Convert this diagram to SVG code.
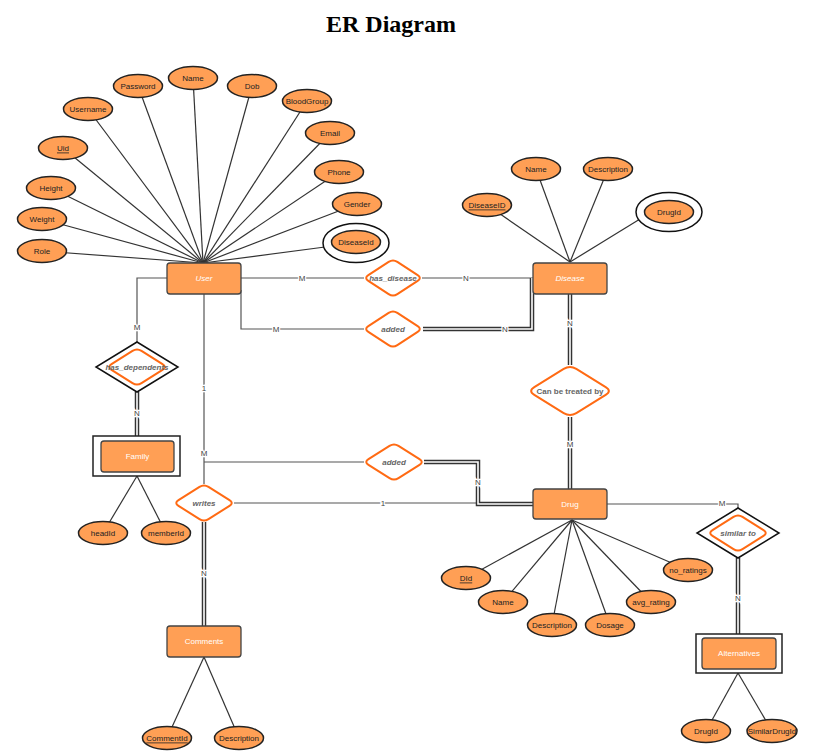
<svg xmlns="http://www.w3.org/2000/svg" width="817" height="755" viewBox="0 0 817 755">
<style>
text{font-family:"Liberation Sans",Arial,sans-serif;font-size:8px;text-anchor:middle;dominant-baseline:central}
.title{font-family:"Liberation Serif","Times New Roman",serif;font-size:24px;font-weight:bold;fill:#000;dominant-baseline:auto}
.attr ellipse{fill:#FF9F55;stroke:#222;stroke-width:1.5}
.attr text{fill:#222}
.attr line{stroke:#333;stroke-width:1.2}
.attr ellipse.ring{fill:#fff;stroke:#111;stroke-width:1.5}
.ent{fill:#FF9F55;stroke:#444;stroke-width:1.3}
.entout{fill:#fff;stroke:#222;stroke-width:1.5}
.etxt{fill:#fff}
.it{font-style:italic}
.rel{fill:#fff;stroke:#FF6A13;stroke-width:2;stroke-linejoin:round}
.relout{fill:#fff;stroke:#111;stroke-width:1.5}
.rtxt{fill:#666;font-style:italic;font-weight:bold}
.rtxt.norm{font-style:normal}
.c{fill:none;stroke:#555;stroke-width:1.2}
.d1{fill:none;stroke:#333;stroke-width:4.5}
.d2{fill:none;stroke:#fff;stroke-width:1.6}
.lbl{fill:#444;stroke:#fff;stroke-width:2.5;paint-order:stroke}
.u{text-decoration:underline}
</style>
<rect width="817" height="755" fill="#fff"/>
<text class="title" x="391" y="32">ER Diagram</text>

<g id="connectors">
<path class="c" d="M167,278 H137 V342"/>
<path class="d1" d="M137,392 V436"/><path class="d2" d="M137,392 V436"/>
<path class="c" d="M241,278 H364"/>
<path class="c" d="M422,278 H533"/>
<path class="c" d="M241,290 V329 H364"/>
<path class="d1" d="M423,329 H532 V278"/><path class="d2" d="M423,329 H532 V278"/>
<path class="c" d="M204,294 V484"/>
<path class="c" d="M204,462 H364"/>
<path class="c" d="M234,503 H533"/>
<path class="d1" d="M424,462 H478 V504 H533"/><path class="d2" d="M424,462 H478 V504 H533"/>
<path class="d1" d="M204,522 V626"/><path class="d2" d="M204,522 V626"/>
<path class="d1" d="M570,294 V365"/><path class="d2" d="M570,294 V365"/>
<path class="d1" d="M570,417 V489"/><path class="d2" d="M570,417 V489"/>
<path class="c" d="M607,504 H738 V508"/>
<path class="d1" d="M738,558 V634"/><path class="d2" d="M738,558 V634"/>
<text class="lbl" x="137" y="327">M</text>
<text class="lbl" x="137" y="413">N</text>
<text class="lbl" x="302" y="278">M</text>
<text class="lbl" x="466" y="278">N</text>
<text class="lbl" x="276" y="329">M</text>
<text class="lbl" x="505" y="329">N</text>
<text class="lbl" x="204" y="388">1</text>
<text class="lbl" x="204" y="453">M</text>
<text class="lbl" x="478" y="482">N</text>
<text class="lbl" x="383" y="503">1</text>
<text class="lbl" x="204" y="573">N</text>
<text class="lbl" x="570" y="323">N</text>
<text class="lbl" x="570" y="444">M</text>
<text class="lbl" x="722" y="503">M</text>
<text class="lbl" x="738" y="598">N</text>
</g>

<g id="user-attributes" class="attr">
<line x1="138" y1="86" x2="203" y2="263"/>
<line x1="193" y1="78" x2="203" y2="263"/>
<line x1="252" y1="86" x2="203" y2="263"/>
<line x1="307" y1="101" x2="203" y2="263"/>
<line x1="330" y1="133" x2="203" y2="263"/>
<line x1="339" y1="172" x2="203" y2="263"/>
<line x1="357" y1="204" x2="203" y2="263"/>
<line x1="325" y1="247" x2="203" y2="263"/>
<line x1="88" y1="109" x2="203" y2="263"/>
<line x1="63" y1="148" x2="203" y2="263"/>
<line x1="51" y1="188" x2="203" y2="263"/>
<line x1="42" y1="219" x2="203" y2="263"/>
<line x1="42" y1="251" x2="203" y2="263"/>
<g id="attr-password"><ellipse cx="138" cy="86" rx="24.5" ry="11.5"/><text x="138" y="86">Password</text></g>
<g id="attr-name"><ellipse cx="193" cy="78" rx="24.5" ry="11.5"/><text x="193" y="78">Name</text></g>
<g id="attr-dob"><ellipse cx="252" cy="86" rx="24.5" ry="11.5"/><text x="252" y="86">Dob</text></g>
<g id="attr-bloodgroup"><ellipse cx="307" cy="101" rx="24.5" ry="11.5"/><text x="307" y="101">BloodGroup</text></g>
<g id="attr-email"><ellipse cx="330" cy="133" rx="24.5" ry="11.5"/><text x="330" y="133">Email</text></g>
<g id="attr-phone"><ellipse cx="339" cy="172" rx="24.5" ry="11.5"/><text x="339" y="172">Phone</text></g>
<g id="attr-gender"><ellipse cx="357" cy="204" rx="24.5" ry="11.5"/><text x="357" y="204">Gender</text></g>
<g id="attr-diseaseid"><ellipse class="ring" cx="356" cy="243" rx="33" ry="19.5"/><ellipse cx="356" cy="242" rx="24.5" ry="11.5"/><text x="356" y="242">DiseaseId</text></g>
<g id="attr-username"><ellipse cx="88" cy="109" rx="24.5" ry="11.5"/><text x="88" y="109">Username</text></g>
<g id="attr-uid"><ellipse cx="63" cy="148" rx="24.5" ry="11.5"/><text class="u" x="63" y="148">Uid</text></g>
<g id="attr-height"><ellipse cx="51" cy="188" rx="24.5" ry="11.5"/><text x="51" y="188">Height</text></g>
<g id="attr-weight"><ellipse cx="42" cy="219" rx="24.5" ry="11.5"/><text x="42" y="219">Weight</text></g>
<g id="attr-role"><ellipse cx="42" cy="251" rx="24.5" ry="11.5"/><text x="42" y="251">Role</text></g>
</g>

<g id="disease-attributes" class="attr">
<line x1="536" y1="169" x2="570" y2="262"/>
<line x1="608" y1="169" x2="570" y2="262"/>
<line x1="487" y1="205" x2="570" y2="262"/>
<line x1="640" y1="219" x2="570" y2="262"/>
<g id="attr-d-name"><ellipse cx="536" cy="169" rx="24.5" ry="11.5"/><text x="536" y="169">Name</text></g>
<g id="attr-d-description"><ellipse cx="608" cy="169" rx="24.5" ry="11.5"/><text x="608" y="169">Description</text></g>
<g id="attr-d-diseaseid"><ellipse cx="487" cy="205" rx="24.5" ry="11.5"/><text class="u" x="487" y="205">DiseaseID</text></g>
<g id="attr-d-drugid"><ellipse class="ring" cx="669" cy="212" rx="33" ry="19.5"/><ellipse cx="669" cy="212" rx="24.5" ry="11.5"/><text x="669" y="212">DrugId</text></g>
</g>

<g id="drug-attributes" class="attr">
<line x1="466" y1="578" x2="572" y2="520"/>
<line x1="503" y1="602" x2="572" y2="520"/>
<line x1="552" y1="625" x2="572" y2="520"/>
<line x1="610" y1="625" x2="572" y2="520"/>
<line x1="651" y1="602" x2="572" y2="520"/>
<line x1="688" y1="570" x2="572" y2="520"/>
<g id="attr-did"><ellipse cx="466" cy="578" rx="24.5" ry="11.5"/><text class="u" x="466" y="578">DId</text></g>
<g id="attr-dr-name"><ellipse cx="503" cy="602" rx="24.5" ry="11.5"/><text x="503" y="602">Name</text></g>
<g id="attr-dr-description"><ellipse cx="552" cy="625" rx="24.5" ry="11.5"/><text x="552" y="625">Description</text></g>
<g id="attr-dosage"><ellipse cx="610" cy="625" rx="24.5" ry="11.5"/><text x="610" y="625">Dosage</text></g>
<g id="attr-avg-rating"><ellipse cx="651" cy="602" rx="24.5" ry="11.5"/><text x="651" y="602">avg_rating</text></g>
<g id="attr-no-ratings"><ellipse cx="688" cy="570" rx="24.5" ry="11.5"/><text x="688" y="570">no_ratings</text></g>
</g>

<g id="family-attributes" class="attr">
<line x1="103" y1="533" x2="137" y2="476"/>
<line x1="166" y1="533" x2="137" y2="476"/>
<g id="attr-headid"><ellipse cx="103" cy="533" rx="24.5" ry="11.5"/><text x="103" y="533">headId</text></g>
<g id="attr-memberid"><ellipse cx="166" cy="533" rx="24.5" ry="11.5"/><text x="166" y="533">memberId</text></g>
</g>

<g id="comments-attributes" class="attr">
<line x1="167" y1="738" x2="204" y2="657"/>
<line x1="239" y1="738" x2="204" y2="657"/>
<g id="attr-commentid"><ellipse cx="167" cy="738" rx="24.5" ry="11.5"/><text class="u" x="167" y="738">CommentId</text></g>
<g id="attr-c-description"><ellipse cx="239" cy="738" rx="24.5" ry="11.5"/><text x="239" y="738">Description</text></g>
</g>

<g id="alternatives-attributes" class="attr">
<line x1="706" y1="731" x2="738" y2="673"/>
<line x1="772" y1="731" x2="738" y2="673"/>
<g id="attr-a-drugid"><ellipse cx="706" cy="731" rx="24.5" ry="11.5"/><text x="706" y="731">DrugId</text></g>
<g id="attr-similardrugid"><ellipse cx="772" cy="731" rx="25" ry="11.5"/><text x="772" y="731" font-size="7.6">SimilarDrugId</text></g>
</g>

<g id="user"><rect class="ent" x="167" y="263" width="74" height="31" rx="3"/><text class="etxt it" x="204" y="278.5">User</text></g>
<g id="disease"><rect class="ent" x="533" y="263" width="74" height="31" rx="3"/><text class="etxt it" x="570" y="278.5">Disease</text></g>
<g id="drug"><rect class="ent" x="533" y="489" width="74" height="30" rx="3"/><text class="etxt" x="570" y="504">Drug</text></g>
<g id="comments"><rect class="ent" x="167" y="626" width="74" height="31" rx="3"/><text class="etxt" x="204" y="641.5">Comments</text></g>
<g id="family"><rect class="entout" x="93" y="436" width="87" height="40"/><rect class="ent" x="101" y="441" width="73" height="31" rx="3"/><text class="etxt" x="137.5" y="456.5">Family</text></g>
<g id="alternatives"><rect class="entout" x="696" y="634" width="86" height="39"/><rect class="ent" x="702" y="638" width="74" height="31" rx="3"/><text class="etxt" x="739" y="653.5">Alternatives</text></g>

<g id="has_dependents"><polygon class="relout" points="137,342 178,367 137,392 96,367"/><path class="rel" d="M141.5,350.85 L162.5,364.15 Q167,367 162.5,369.85 L141.5,383.15 Q137,386 132.5,383.15 L111.5,369.85 Q107,367 111.5,364.15 L132.5,350.85 Q137,348 141.5,350.85Z"/><text class="rtxt" x="137" y="367">has_dependents</text></g>
<g id="has_disease"><path class="rel" d="M397.35,261.85 L417.65,275.15 Q422,278 417.65,280.85 L397.35,294.15 Q393,297 388.65,294.15 L368.35,280.85 Q364,278 368.35,275.15 L388.65,261.85 Q393,259 397.35,261.85Z"/><text class="rtxt" x="393" y="278">has_disease</text></g>
<g id="added-disease"><path class="rel" d="M397.35,312.85 L417.65,326.15 Q422,329 417.65,331.85 L397.35,345.15 Q393,348 388.65,345.15 L368.35,331.85 Q364,329 368.35,326.15 L388.65,312.85 Q393,310 397.35,312.85Z"/><text class="rtxt" x="393" y="329">added</text></g>
<g id="added-drug"><path class="rel" d="M398.5,445.85 L419.5,459.15 Q424,462 419.5,464.85 L398.5,478.15 Q394,481 389.5,478.15 L368.5,464.85 Q364,462 368.5,459.15 L389.5,445.85 Q394,443 398.5,445.85Z"/><text class="rtxt" x="394" y="462">added</text></g>
<g id="writes"><path class="rel" d="M208.5,486.85 L229.5,500.15 Q234,503 229.5,505.85 L208.5,519.15 Q204,522 199.5,519.15 L178.5,505.85 Q174,503 178.5,500.15 L199.5,486.85 Q204,484 208.5,486.85Z"/><text class="rtxt" x="204" y="503">writes</text></g>
<g id="can_be_treated_by"><path class="rel" d="M576.3,368.9 L605.7,387.1 Q612,391 605.7,394.9 L576.3,413.1 Q570,417 563.7,413.1 L534.3,394.9 Q528,391 534.3,387.1 L563.7,368.9 Q570,365 576.3,368.9Z"/><text class="rtxt norm" x="570" y="391">Can be treated by</text></g>
<g id="similar_to"><polygon class="relout" points="738,508 779,533 738,558 697,533"/><path class="rel" d="M742.5,516.85 L763.5,530.15 Q768,533 763.5,535.85 L742.5,549.15 Q738,552 733.5,549.15 L712.5,535.85 Q708,533 712.5,530.15 L733.5,516.85 Q738,514 742.5,516.85Z"/><text class="rtxt" x="738" y="533">similar to</text></g>
</svg>
